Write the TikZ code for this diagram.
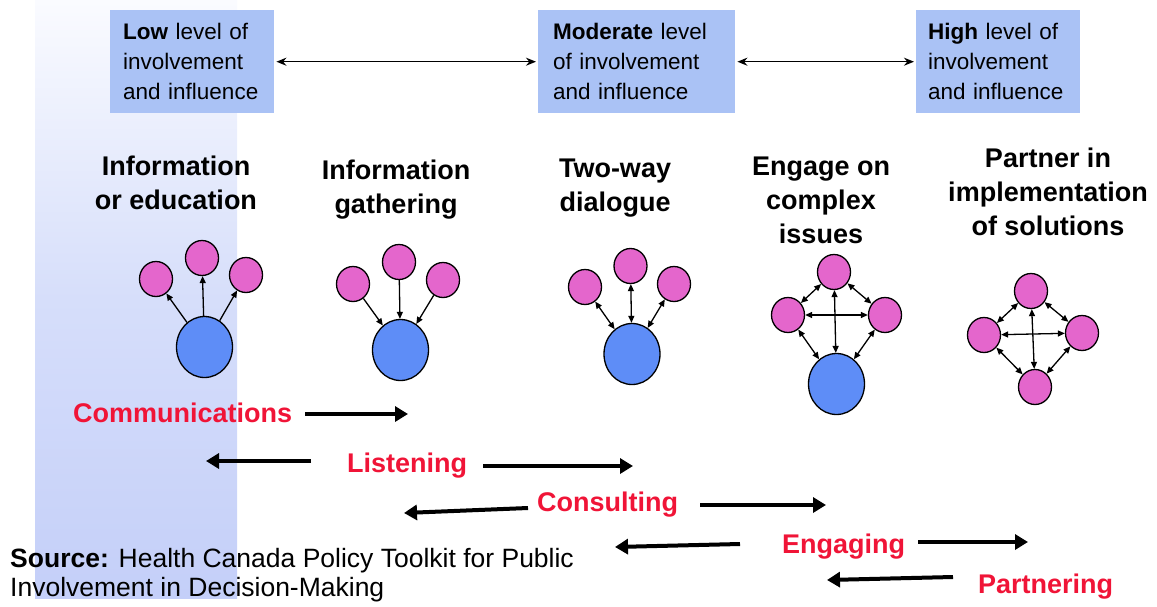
\documentclass[tikz,border=0pt]{standalone}
\usepackage{fontspec}
\setmainfont{Liberation Sans}
\usetikzlibrary{shapes.geometric,arrows.meta}
\definecolor{boxblue}{RGB}{170,194,245}
\definecolor{pinkc}{RGB}{228,102,204}
\definecolor{bluec}{RGB}{94,141,247}
\definecolor{redc}{RGB}{240,20,55}
\definecolor{bandtop}{RGB}{250,251,255}
\definecolor{bandmid}{RGB}{214,222,250}
\definecolor{bandbot}{RGB}{196,207,249}
\hyphenpenalty=10000
\exhyphenpenalty=10000
\begin{document}
\begin{tikzpicture}[x=1pt,y=-1pt,
  levelbox/.style={fill=boxblue, anchor=north west, align=left, inner ysep=0pt, minimum height=103pt, font=\fontsize{22.5}{30}\selectfont},
  title/.style={anchor=base, align=center, font=\bfseries\fontsize{27}{34}\selectfont, inner sep=0pt},
  stage/.style={anchor=base west, text=redc, font=\bfseries\fontsize{27}{32}\selectfont, inner sep=0pt},
  pk/.style={ellipse, draw=black, line width=1.3pt, fill=pinkc, minimum width=33pt, minimum height=35pt, inner sep=0pt},
  bg/.style={ellipse, draw=black, line width=1.3pt, fill=bluec, minimum width=56pt, minimum height=61pt, inner sep=0pt},
  lk/.style={line width=1.3pt, -{Triangle[length=7pt,width=6pt]}},
  dlk/.style={line width=1.3pt, {Triangle[length=7pt,width=6pt]}-{Triangle[length=7pt,width=6pt]}},
  bigarrow/.style={line width=4pt, -{Triangle[length=13pt,width=15pt]}},
  toparrow/.style={line width=1.4pt, {Stealth[length=10pt,width=8pt]}-{Stealth[length=10pt,width=8pt]}, shorten <=2pt, shorten >=2pt}
]
\useasboundingbox (0,0) rectangle (1157,606);
% background band
\fill[top color=bandtop, bottom color=bandbot, middle color=bandmid] (35,0) rectangle (237,598);

% level boxes
\node[levelbox, inner xsep=13pt, text width=138pt] (low) at (110,10) {\textbf{Low} level of\\involvement\\and~influence};
\node[levelbox, inner xsep=15pt, text width=167pt] (mod) at (538,10) {\textbf{Moderate} level\\of~involvement\\and~influence};
\node[levelbox, inner xsep=12pt, text width=140pt] (high) at (916,10) {\textbf{High} level of\\involvement\\and~influence};
\draw[toparrow] (low.east) -- (mod.west);
\draw[toparrow] (mod.east) -- (high.west);

% titles (base = last line)
\node[title] (t1) at (176,209) {Information\\or education};
\node[title] (t2) at (396,213) {Information\\gathering};
\node[title] (t3) at (615,211) {Two-way\\dialogue};
\node[title] (t4) at (821,243) {Engage on\\complex\\issues};
\node[title] (t5) at (1048,235) {Partner in\\implementation\\of solutions};

% graph 1
\node[pk] (a1) at (156,279) {};
\node[pk] (a2) at (202,258) {};
\node[pk] (a3) at (246,275) {};
\node[bg] (A) at (204.5,347) {};
\draw[lk] (A) -- (a1);
\draw[lk] (A) -- (a2);
\draw[lk] (A) -- (a3);

% graph 2
\node[pk] (b1) at (353,284) {};
\node[pk] (b2) at (399,262) {};
\node[pk] (b3) at (443,280) {};
\node[bg] (B) at (400.5,350) {};
\draw[lk] (b1) -- (B);
\draw[lk] (b2) -- (B);
\draw[lk] (b3) -- (B);

% graph 3
\node[pk] (c1) at (585,287) {};
\node[pk] (c2) at (630.5,266) {};
\node[pk] (c3) at (674,284) {};
\node[bg] (C) at (632,354) {};
\draw[dlk] (C) -- (c1);
\draw[dlk] (C) -- (c2);
\draw[dlk] (C) -- (c3);

% graph 4
\node[pk] (d1) at (834,272) {};
\node[pk] (d2) at (788,315) {};
\node[pk] (d3) at (885,315) {};
\node[bg] (D) at (836.5,384) {};
\draw[dlk] (d1) -- (d2);
\draw[dlk] (d1) -- (d3);
\draw[dlk] (d2) -- (d3);
\draw[dlk] (d1) -- (D);
\draw[dlk] (d2) -- (D);
\draw[dlk] (d3) -- (D);

% graph 5
\node[pk] (e1) at (1031,291) {};
\node[pk] (e2) at (984,335) {};
\node[pk] (e3) at (1082,333) {};
\node[pk] (e4) at (1035,387) {};
\draw[dlk] (e1) -- (e2);
\draw[dlk] (e1) -- (e3);
\draw[dlk] (e2) -- (e3);
\draw[dlk] (e1) -- (e4);
\draw[dlk] (e2) -- (e4);
\draw[dlk] (e3) -- (e4);

% stage labels
\node[stage] (comm) at (73,422) {Communications};
\node[stage] (list) at (347,472) {Listening};
\node[stage] (cons) at (537,511) {Consulting};
\node[stage] (enga) at (782,553) {Engaging};
\node[stage] (part) at (978,593) {Partnering};

% arrow end points
\coordinate (c1s) at (305,414); \coordinate (c1e) at (408,414);
\coordinate (l1s) at (311,461); \coordinate (l1e) at (206,461);
\coordinate (l2s) at (483,466); \coordinate (l2e) at (633,466);
\coordinate (k1s) at (528,508); \coordinate (k1e) at (404,513);
\coordinate (k2s) at (700,505); \coordinate (k2e) at (826,505);
\coordinate (g1s) at (740,544); \coordinate (g1e) at (615,547);
\coordinate (g2s) at (918,542); \coordinate (g2e) at (1028,542);
\coordinate (p1s) at (953,577); \coordinate (p1e) at (827,580);
\draw[bigarrow] (c1s) -- (c1e);
\draw[bigarrow] (l1s) -- (l1e);
\draw[bigarrow] (l2s) -- (l2e);
\draw[bigarrow] (k1s) -- (k1e);
\draw[bigarrow] (k2s) -- (k2e);
\draw[bigarrow] (g1s) -- (g1e);
\draw[bigarrow] (g2s) -- (g2e);
\draw[bigarrow] (p1s) -- (p1e);

% source (base = last line)
\node[anchor=base west, align=left, inner sep=0pt, font=\fontsize{26.5}{29}\selectfont] (src) at (10,596) {\textbf{Source:} Health Canada Policy Toolkit for Public\\Involvement in Decision-Making};
\end{tikzpicture}
\end{document}
